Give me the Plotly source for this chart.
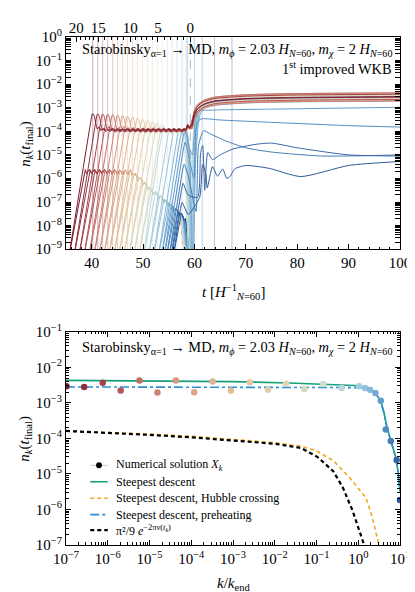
import numpy as np
import plotly.graph_objects as go
from plotly.colors import sample_colorscale

FONT = "Liberation Serif"

# ---------------- top panel data (t in units of 1/H_{N=60}, values as log10 n_k) ----------------
T_CROSS = [40.2, 41.17, 42.13, 43.1, 44.07, 45.03, 46.0, 46.96, 47.93, 48.9, 49.86, 50.83, 51.8,
           52.76, 53.73, 54.7, 55.66, 56.63, 57.6, 58.4, 58.65, 60.0, 61.5, 63.9, 67.3]
UP_START = [35.5, 36.47, 37.43, 38.4, 39.37, 40.33, 41.3, 42.26, 43.23, 44.2, 45.16, 46.13, 47.1,
            48.06, 49.03, 50.0, 50.96, 51.93, 52.9, 53.5, 54.0, 54.5, 55.0, 55.4, 55.8]
UP_PEAK = [-3.24, -3.25, -3.26, -3.27, -3.29, -3.31, -3.33, -3.36, -3.39, -3.43, -3.47, -3.52, -3.57,
           -3.63, -3.69, None, None, None, None, None, None, None, None, None, None]
UP_PLATEAU = [-3.93, -3.98, -3.92, -4.0, -3.95, -3.9, -3.97, -3.93, -4.02, -3.95, -3.99, -3.92, -3.97,
              -3.94, -4.0, -3.95, -3.98, -4.0, -4.0, -4.05, -4.1, -4.1, -4.1, -4.1, -4.1]
UP_FALL = [None] * 14 + [57.5, 57.8, 58.0, 58.2, 58.4, 58.5, 58.4, 58.2, 58.0, 57.8, 57.6]
UP_DIP = [None] * 14 + [58.9, 59.1, 59.25, 59.4, 59.55, 59.7, None, None, None, None, None]

LATE20_T = [59.6, 60.2, 61.0, 64.0, 75.0, 100.0]
LATE20_V = [-5.0, -3.5, -3.15, -3.1, -3.06, -2.98]
LATE21_T = [59.9, 60.5, 61.5, 65.0, 75.0, 90.0, 100.0]
LATE21_V = [-6.0, -3.6, -3.47, -3.52, -3.62, -3.76, -3.82]
LATE22_T = [60.3, 60.8, 61.8, 63.0, 66.0, 70.0, 75.0, 85.0, 100.0]
LATE22_V = [-7.4, -4.6, -3.97, -4.1, -4.4, -4.7, -4.88, -5.05, -5.0]
LATE23_T = [60.6, 61.2, 61.6, 62.0, 62.6, 63.5, 65.0, 67.5, 72.0, 75.0, 80.0, 90.0, 100.0]
LATE23_V = [-6.8, -4.9, -4.6, -6.5, -4.9, -5.2, -5.0, -4.75, -4.55, -4.5, -4.7, -5.0, -5.05]
LATE24_T = [61.0, 61.6, 62.2, 62.5, 63.5, 64.5, 65.5, 66.3, 67.0, 67.8, 70.0, 74.5, 80.7, 90.0, 100.0]
LATE24_V = [-6.8, -5.4, -5.8, -6.4, -5.5, -5.9, -5.6, -6.0, -5.9, -5.6, -5.45, -5.57, -5.92, -5.45, -5.28]
LATE = {20: (LATE20_T, LATE20_V), 21: (LATE21_T, LATE21_V), 22: (LATE22_T, LATE22_V),
        23: (LATE23_T, LATE23_V), 24: (LATE24_T, LATE24_V)}

LOW_ENV_T = [36.0, 47.5, 49.0, 50.5, 52.0, 54.0, 55.5, 57.0, 58.5]
LOW_ENV_V = [-5.62, -5.65, -5.9, -6.2, -6.5, -6.85, -7.1, -7.4, -7.7]
LOW_DROP = [57.4] * 14 + [57.5, 57.6, 57.7, 57.8, 57.9, 58.0, 58.1, 58.2, 58.3, 58.4, 58.5]

T_END = 59.2
TOP_TICK_T = [37.0, 41.3, 47.5, 52.9, 59.2]
TOP_TICK_N = [20, 15, 10, 5, 0]

# ---------------- bottom panel data (log10 k/k_end, log10 n_k) ----------------
K_LOG = [-6.99, -6.565, -6.12, -5.69, -5.24, -4.81, -4.37, -3.93, -3.49, -3.05, -2.60, -2.16, -1.73,
         -1.29, -0.84, -0.40, 0.02, 0.16, 0.28, 0.41, 0.54, 0.66, 0.78, 0.92, 1.0]
NK_LOG = [-2.53, -2.55, -2.43, -2.65, -2.37, -2.71, -2.37, -2.70, -2.40, -2.65, -2.42, -2.63, -2.46,
          -2.61, -2.47, -2.58, -2.53, -2.58, -2.63, -2.72, -2.94, -3.75, -4.07, -4.61, -5.73]

SD_LOGK = [-7, -5, -3, -1.65, -0.5, -0.09, 0.15, 0.3, 0.42, 0.54, 0.62, 0.68, 0.78, 0.88, 0.95, 1.0]
SD_LOGN = [-2.365, -2.38, -2.40, -2.44, -2.48, -2.51, -2.56, -2.63, -2.74, -2.95, -3.3, -3.65, -4.07,
           -4.45, -4.9, -5.5]
PRE_LOGK = [-7, -3, -0.2, 0.0, 0.2, 0.35, 0.45, 0.55, 0.62, 0.68, 0.78, 0.88, 0.95, 1.0]
PRE_LOGN = [-2.55, -2.55, -2.56, -2.57, -2.6, -2.68, -2.8, -3.0, -3.3, -3.65, -4.07, -4.45, -4.9, -5.5]
HC_LOGK = [-7, -6, -5, -4, -3, -2, -1.37, -1, -0.6, -0.21, 0.19, 0.33, 0.49, 0.55]
HC_LOGN = [-3.79, -3.83, -3.88, -3.94, -4.02, -4.12, -4.22, -4.35, -4.62, -5.1, -5.68, -6.2, -6.97, -7.3]
EXP_LOGK = [-7, -6, -5, -4, -3, -2, -1.37, -0.98, -0.6, -0.37, -0.14, 0.09, 0.2]
EXP_LOGN = [-3.79, -3.84, -3.9, -3.97, -4.05, -4.15, -4.27, -4.52, -4.92, -5.38, -6.02, -6.78, -7.2]

# legend of the bottom panel
LEG_LABELS = ['Numerical solution <i>X<sub>k</sub></i>', 'Steepest descent',
              'Steepest descent, Hubble crossing', 'Steepest descent, preheating',
              'π²/9 <i>e</i><sup>−2πν(<i>t<sub>k</sub></i>)</sup>']
LEG_COLORS = ['#c8c8c8', '#16a07c', '#f2a81d', '#2b8fd3', 'black']
LEG_DASH = ['solid', 'solid', '4px,3px', 'dashdot', '4px,3px']
LEG_WIDTH = [1.0, 1.6, 1.6, 1.6, 2.2]
LEG_ROW_PX = [457, 473.5, 490, 506.5, 522]

# colour of each mode follows log10(k/k_end) over the bottom panel's x range
COLORSCALE = [[0.0, '#7a1b2d'], [0.11, '#a3414d'], [0.22, '#c26c66'], [0.33, '#d69a80'],
              [0.44, '#dfb390'], [0.55, '#e3c7a0'], [0.66, '#ddd5b3'], [0.77, '#d3ddcc'],
              [0.83, '#bcd8da'], [0.88, '#a2cbe0'], [0.92, '#7cb0d6'], [0.96, '#4f8bc2'],
              [1.0, '#2c5a9a']]
NMODE = len(T_CROSS)
COLORS = sample_colorscale(COLORSCALE, [(k + 7.0) / 8.0 for k in K_LOG])

# shape constants (curve construction)
START, FLOOR = -9.4, -9.7
RISE_UP, RISE_LOW = 1.35, 1.16
PEAK_DT = [-0.3, -0.1, 0.1, 0.35, 0.6]
PEAK_DV = [-0.25, -0.03, -0.02, -0.15, -0.42]
SETTLE_DT = [0.9, 1.25, 1.6, 2.0]
SETTLE_DV = [0.02, 0.12, -0.04, 0.05]
WIG_GRID = list(np.arange(36.0, 59.01, 0.5))
SCALLOP = [-0.18, -0.05, 0.0, -0.05]
SCALLOP_GRID = list(np.arange(36.0, 59.01, 0.25))

# figure geometry (pixels)
W, H = 415, 592
ML, MR, MT, MB = 58, 13, 27, 55
PW, PH = W - ML - MR, H - MT - MB


def px_x(px):
    return (px - ML) / PW


def px_y(py):
    return (H - MB - py) / PH


def wiggle(t0, t1, q):
    ts, vs = [], []
    for j, g in enumerate(WIG_GRID):
        if t0 < g < t1:
            ts.append(g)
            vs.append(q + (0.03 if j % 2 == 0 else -0.03))
    return ts, vs


def upper_path(i):
    S, P, Q = UP_START[i], UP_PEAK[i], UP_PLATEAU[i]
    D, B = UP_FALL[i], UP_DIP[i]
    F = NK_LOG[i]
    stop = D if D is not None else 58.3
    ts, vs = [S], [START]
    on_plateau = True
    if P is not None:
        T = T_CROSS[i]
        for dt, dv in zip(PEAK_DT, PEAK_DV):
            ts.append(T + dt)
            vs.append(max(P + dv, Q + 0.06))
        for dt, dv in zip(SETTLE_DT, SETTLE_DV):
            ts.append(T + dt)
            vs.append(Q + dv)
        last = T + SETTLE_DT[-1]
    else:
        t_hit = S + (Q - START) / RISE_UP
        if t_hit < stop:
            ts.append(t_hit)
            vs.append(Q)
            last = t_hit
        else:
            top = START + RISE_UP * (stop - S)
            ts += [stop - 0.3, stop]
            vs += [top - 0.3, top - 0.05]
            on_plateau = False
    if on_plateau:
        wt, wv = wiggle(last, stop, Q)
        ts += wt + [stop]
        vs += wv + [Q]
    cur = vs[-1]
    if D is None:
        ts += [58.7, 59.05, 59.5, 60.0, 60.6, 62, 64, 70, 80, 100]
        vs += [Q + 0.2, Q + 0.1, F - 1.2, F - 0.75, F - 0.5, F - 0.3, F - 0.18, F - 0.08, F - 0.03, F]
    elif i not in LATE:
        ts += [D + 0.4 * (B - D), B, B + 0.55, B + 1.0, B + 1.5, 62, 64, 70, 80, 100]
        vs += [cur - 0.6, FLOOR, -5.2, -3.8, F - 0.5, F - 0.3, F - 0.18, F - 0.08, F - 0.03, F]
    else:
        lt, lv = LATE[i]
        ts += [D + 0.35 * (lt[0] - D)] + list(lt)
        vs += [cur - 0.5] + list(lv)
    return ts, vs


def env(t):
    return float(np.interp(t, LOW_ENV_T, LOW_ENV_V))


def lower_path(i):
    S, G = UP_START[i], LOW_DROP[i]
    ts, vs = [S], [START]
    meet = None
    for t in np.arange(S, G, 0.01):
        if START + RISE_LOW * (t - S) >= env(t):
            meet = t
            break
    if meet is None:
        ts.append(G)
        vs.append(START + RISE_LOW * (G - S))
    else:
        ts.append(meet)
        vs.append(env(meet))
        for j, g in enumerate(SCALLOP_GRID):
            if meet + 0.05 < g < G:
                ts.append(g)
                vs.append(env(g) + SCALLOP[j % 4])
    ts.append(G + 0.9)
    vs.append(FLOOR)
    return ts, vs


fig = go.Figure()

# lower family
for i in range(NMODE):
    t, v = lower_path(i)
    fig.add_trace(go.Scatter(x=t, y=[10 ** x for x in v], mode='lines', xaxis='x', yaxis='y',
                             line=dict(color=COLORS[i], width=1.0), showlegend=False, hoverinfo='skip'))
# upper family: late (blue) modes first, darker ones over paler ones; then reds on top
UPPER_ORDER = list(range(14, NMODE)) + list(range(13, -1, -1))
for i in UPPER_ORDER:
    t, v = upper_path(i)
    fig.add_trace(go.Scatter(x=t, y=[10 ** x for x in v], mode='lines', xaxis='x', yaxis='y',
                             line=dict(color=COLORS[i], width=1.0, shape='spline', smoothing=0.6),
                             showlegend=False, hoverinfo='skip'))
# invisible trace on the top e-fold axis
fig.add_trace(go.Scatter(x=[50], y=[1e-5], xaxis='x3', yaxis='y', mode='markers',
                         marker=dict(opacity=0), showlegend=False, hoverinfo='skip'))

shapes = []
for i in range(NMODE):
    shapes.append(dict(type='line', xref='x', yref='y domain', x0=T_CROSS[i], x1=T_CROSS[i], y0=0, y1=1,
                       line=dict(color=COLORS[i], width=1.1), opacity=0.32, layer='below'))
shapes.append(dict(type='line', xref='x', yref='y domain', x0=T_END, x1=T_END, y0=0, y1=1,
                   line=dict(color='#9aa6b4', width=1, dash='dash'), opacity=0.8, layer='below'))

# ---------------- bottom panel ----------------
fig.add_trace(go.Scatter(x=[10 ** x for x in SD_LOGK], y=[10 ** x for x in SD_LOGN], mode='lines',
                         xaxis='x2', yaxis='y2', line=dict(color=LEG_COLORS[1], width=LEG_WIDTH[1]),
                         name='Steepest descent', showlegend=False))
fig.add_trace(go.Scatter(x=[10 ** x for x in HC_LOGK], y=[10 ** x for x in HC_LOGN], mode='lines',
                         xaxis='x2', yaxis='y2',
                         line=dict(color=LEG_COLORS[2], width=LEG_WIDTH[2], dash=LEG_DASH[2]),
                         name='Steepest descent, Hubble crossing', showlegend=False))
fig.add_trace(go.Scatter(x=[10 ** x for x in PRE_LOGK], y=[10 ** x for x in PRE_LOGN], mode='lines',
                         xaxis='x2', yaxis='y2',
                         line=dict(color=LEG_COLORS[3], width=LEG_WIDTH[3], dash=LEG_DASH[3]),
                         name='Steepest descent, preheating', showlegend=False))
fig.add_trace(go.Scatter(x=[10 ** x for x in EXP_LOGK], y=[10 ** x for x in EXP_LOGN], mode='lines',
                         xaxis='x2', yaxis='y2',
                         line=dict(color=LEG_COLORS[4], width=LEG_WIDTH[4], dash=LEG_DASH[4]),
                         name='pi^2/9 exp', showlegend=False))
fig.add_trace(go.Scatter(x=[10 ** x for x in K_LOG], y=[10 ** x for x in NK_LOG], mode='markers',
                         xaxis='x2', yaxis='y2', marker=dict(color=COLORS, size=6.5),
                         name='Numerical solution', showlegend=False, hoverinfo='skip'))

# hand-made legend (tighter rows than plotly's legend allows)
leg_font = dict(family=FONT, size=12, color='black')
for lab, col, dash, wid, row in zip(LEG_LABELS, LEG_COLORS, LEG_DASH, LEG_WIDTH, LEG_ROW_PX):
    shapes.append(dict(type='line', xref='paper', yref='paper', x0=px_x(83), x1=px_x(101),
                       y0=px_y(row), y1=px_y(row), line=dict(color=col, width=wid, dash=dash)))
    fig.add_annotation(text=lab, xref='paper', yref='paper', x=px_x(107), y=px_y(row),
                       xanchor='left', yanchor='middle', showarrow=False, font=leg_font)
shapes.append(dict(type='circle', xref='paper', yref='paper', x0=px_x(89), x1=px_x(95),
                   y0=px_y(LEG_ROW_PX[0] + 3), y1=px_y(LEG_ROW_PX[0] - 3),
                   fillcolor='black', line=dict(color='black', width=0)))

tick_font = dict(family=FONT, size=15, color='black')
axis_common = dict(showline=True, linecolor='black', linewidth=1.2, ticks='inside', ticklen=5,
                   tickwidth=1, tickcolor='black', showgrid=False, zeroline=False, tickfont=tick_font)


def log_minor(e0, e1):
    return [m * 10.0 ** e for e in range(e0, e1) for m in range(2, 10)]


top_minor = list(np.interp(np.arange(0, 21), TOP_TICK_N[::-1], TOP_TICK_T[::-1]))

fig.update_layout(
    width=W, height=H, margin=dict(l=ML, r=MR, t=MT, b=MB),
    paper_bgcolor='white', plot_bgcolor='white', hovermode=False, showlegend=False,
    font=dict(family=FONT, size=13, color='black'),
    xaxis=dict(axis_common, domain=[0, 1], anchor='y', range=[35, 100], dtick=10, mirror=True,
               minor=dict(ticks='inside', ticklen=2.5, dtick=2, tickcolor='black')),
    yaxis=dict(axis_common, domain=[px_y(240), 1], anchor='x', type='log', range=[-9, 0], mirror='allticks',
               tickvals=[10.0 ** e for e in range(-9, 1)],
               ticktext=['10<sup>−%d</sup>' % (-e) if e < 0 else '10<sup>0</sup>' for e in range(-9, 1)],
               minor=dict(ticks='inside', ticklen=2.5, tickvals=log_minor(-9, 0), tickcolor='black')),
    xaxis3=dict(axis_common, overlaying='x', side='top', anchor='y', range=[35, 100], showline=False,
                tickvals=TOP_TICK_T, ticktext=[str(n) for n in TOP_TICK_N],
                minor=dict(ticks='inside', ticklen=2.5, tickvals=top_minor, tickcolor='black')),
    xaxis2=dict(axis_common, domain=[0, 1], anchor='y2', type='log', range=[-7, 1], mirror='allticks',
                tickvals=[10.0 ** e for e in range(-7, 2)],
                ticktext=['10<sup>−%d</sup>' % (-e) if e < 0 else ('10<sup>0</sup>' if e == 0 else '10<sup>1</sup>')
                          for e in range(-7, 2)],
                minor=dict(ticks='inside', ticklen=2.5, tickvals=log_minor(-7, 1), tickcolor='black')),
    yaxis2=dict(axis_common, domain=[0, px_y(323)], anchor='x2', type='log', range=[-7, -1], mirror='allticks',
                tickvals=[10.0 ** e for e in range(-7, 0)],
                ticktext=['10<sup>−%d</sup>' % (-e) for e in range(-7, 0)],
                minor=dict(ticks='inside', ticklen=2.5, tickvals=log_minor(-7, -1), tickcolor='black')),
    shapes=shapes,
)

ann_font = dict(family=FONT, size=14.4, color='black')
title_txt = ('Starobinsky<sub>α=1</sub> → MD, <i>m<sub>ϕ</sub></i> = 2.03 <i>H</i><sub><i>N</i>=60</sub>, '
             '<i>m<sub>χ</sub></i> = 2 <i>H</i><sub><i>N</i>=60</sub>')
fig.add_annotation(text=title_txt, xref='paper', yref='paper', x=px_x(396), y=px_y(40), xanchor='right',
                   yanchor='middle', showarrow=False, font=ann_font)
fig.add_annotation(text='1<sup>st</sup> improved WKB', xref='paper', yref='paper', x=px_x(396), y=px_y(58),
                   xanchor='right', yanchor='middle', showarrow=False, font=ann_font)
fig.add_annotation(text=title_txt, xref='paper', yref='paper', x=px_x(396), y=px_y(339), xanchor='right',
                   yanchor='middle', showarrow=False, font=ann_font)
fig.add_annotation(text='<i>n<sub>k</sub></i>(<i>t</i><sub>final</sub>)', xref='paper', yref='paper',
                   x=px_x(16), y=px_y(134), xanchor='center', yanchor='middle', textangle=-90, showarrow=False,
                   font=dict(family=FONT, size=15))
fig.add_annotation(text='<i>n<sub>k</sub></i>(<i>t</i><sub>final</sub>)', xref='paper', yref='paper',
                   x=px_x(16), y=px_y(430), xanchor='center', yanchor='middle', textangle=-90, showarrow=False,
                   font=dict(family=FONT, size=15))
fig.add_annotation(text='<i>t</i> [<i>H</i><sup>−1</sup><sub><i>N</i>=60</sub>]', xref='paper', yref='paper',
                   x=px_x(230), y=px_y(283), xanchor='center', yanchor='middle', showarrow=False,
                   font=dict(family=FONT, size=15))
fig.add_annotation(text='<i>k</i>/<i>k</i><sub>end</sub>', xref='paper', yref='paper',
                   x=px_x(230), y=px_y(576), xanchor='center', yanchor='middle', showarrow=False,
                   font=dict(family=FONT, size=15))

fig.write_html("out.html")
